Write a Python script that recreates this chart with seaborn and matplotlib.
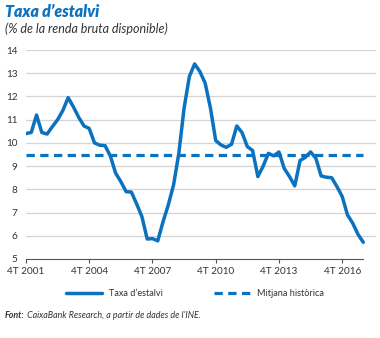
import matplotlib
matplotlib.use("Agg")
import matplotlib.pyplot as plt
import seaborn as sns
import pandas as pd
from matplotlib.lines import Line2D

# Quarterly household saving rate, 4T 2001 .. 4T 2017 (% of gross disposable income)
saving_rate = [
    10.4, 10.45, 11.2, 10.45, 10.38, 10.7, 11.0, 11.4, 11.95, 11.55,
    11.1, 10.73, 10.62, 10.0, 9.9, 9.88, 9.44, 8.7, 8.33, 7.9,
    7.88, 7.37, 6.82, 5.86, 5.88, 5.78, 6.6, 7.33, 8.19, 9.55,
    11.5, 12.86, 13.4, 13.07, 12.57, 11.5, 10.1, 9.91, 9.81, 9.94,
    10.73, 10.44, 9.84, 9.67, 8.55, 9.0, 9.55, 9.44, 9.61, 8.9,
    8.55, 8.15, 9.24, 9.38, 9.61, 9.34, 8.58, 8.52, 8.5, 8.12,
    7.69, 6.9, 6.54, 6.06, 5.72,
]
historical_mean = 9.5
tick_quarters = [0, 12, 24, 36, 48, 60]
tick_labels = ["4T 2001", "4T 2004", "4T 2007", "4T 2010", "4T 2013", "4T 2016"]
y_ticks = list(range(5, 15))

quarters = list(range(len(saving_rate)))
df = pd.DataFrame({
    "quarter": quarters,
    "rate": saving_rate,
    "mean": [historical_mean] * len(saving_rate),
})

BLUE = "#0b72bf"
TEXT = "#333333"
DASH = (0, (2.6, 1.7))
sns.set_theme(style="white")
plt.rcParams["font.family"] = ["Lato", "DejaVu Sans"]

fig = plt.figure(figsize=(3.8, 3.38), dpi=100)
ax = fig.add_axes([26 / 380, 1 - 259 / 338, (376 - 26) / 380, (259 - 50) / 338])

sns.lineplot(data=df, x="quarter", y="mean", ax=ax, color=BLUE, lw=2.3,
             linestyle=DASH, zorder=3)
sns.lineplot(data=df, x="quarter", y="rate", ax=ax, color=BLUE, lw=2.5,
             zorder=4, solid_joinstyle="round")

ax.set_xlim(0, (376 - 26) / 5.27)
ax.set_ylim(5, 14)
ax.set_yticks(y_ticks)
ax.set_yticklabels([str(v) for v in y_ticks])
ax.set_xticks(tick_quarters)
ax.set_xticklabels(tick_labels)
ax.set_xlabel("")
ax.set_ylabel("")

for v in y_ticks[1:]:
    ax.axhline(v, color="#d4d4d4", lw=0.9, zorder=1)

for s in ["top", "right", "left"]:
    ax.spines[s].set_visible(False)
ax.spines["bottom"].set_color("#555555")
ax.spines["bottom"].set_linewidth(0.8)
ax.spines["bottom"].set_bounds(0, len(saving_rate) - 1)

ax.tick_params(axis="x", direction="out", length=3, width=0.8, color="#555555",
               labelsize=7.2, labelcolor=TEXT, pad=2.5, bottom=True)
ax.tick_params(axis="y", length=0, labelsize=7.2, labelcolor=TEXT, pad=6)

fig.text(5 / 380, 1 - 12 / 338, "Taxa d\u2019estalvi", color=BLUE, fontsize=11.4,
         fontweight="heavy", fontstyle="italic", va="center", ha="left")
fig.text(5 / 380, 1 - 29 / 338, "(% de la renda bruta disponible)", color=TEXT,
         fontsize=9.0, fontstyle="italic", va="center", ha="left")

handles = [
    Line2D([], [], color=BLUE, lw=2.5),
    Line2D([], [], color=BLUE, lw=2.3, linestyle=DASH),
]
fig.legend(handles, ["Taxa d\u2019estalvi", "Mitjana hist\u00f2rica"], loc="center",
           bbox_to_anchor=(195 / 380, 1 - 294 / 338), ncol=2, frameon=False,
           fontsize=6.6, handlelength=3.9, columnspacing=5.6, handletextpad=0.8,
           labelcolor=TEXT)

src = fig.text(5 / 380, 1 - 318 / 338, "Font:", color=TEXT, fontsize=6.4,
               fontweight="bold", fontstyle="italic", va="baseline", ha="left")
ax.annotate(" CaixaBank Research, a partir de dades de l\u2019INE.",
            xy=(1, 0), xycoords=src, va="bottom", ha="left",
            color=TEXT, fontsize=6.4, fontstyle="italic", annotation_clip=False)

fig.savefig("out.png", dpi=100)
